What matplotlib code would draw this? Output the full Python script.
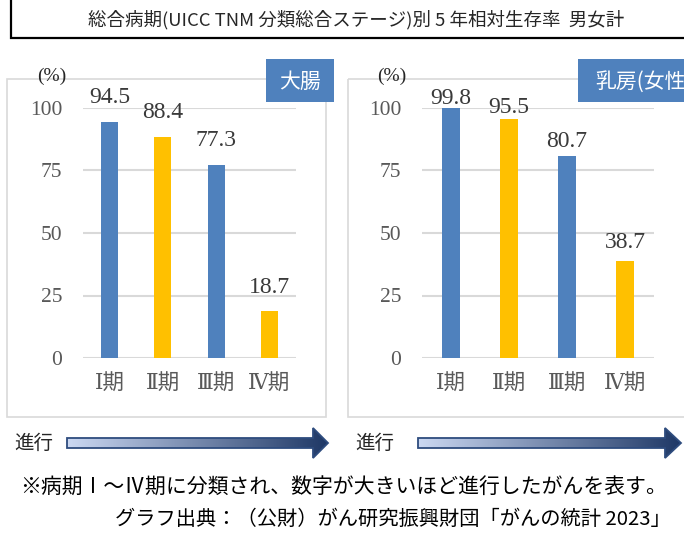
import numpy as np
import matplotlib.pyplot as plt
from matplotlib.patches import Rectangle, Polygon

plt.rcParams['font.family'] = ['Noto Sans CJK JP', 'DejaVu Sans']

# data
stages = ['Ⅰ期', 'Ⅱ期', 'Ⅲ期', 'Ⅳ期']
colon = [94.5, 88.4, 77.3, 18.7]
breast = [99.8, 95.5, 80.7, 38.7]
panel_names = ['大腸', '乳房(女性)']
yticks = [0, 25, 50, 75, 100]
title = '総合病期(UICC TNM 分類総合ステージ)別 5 年相対生存率  男女計'
note = '※病期Ⅰ～Ⅳ期に分類され、数字が大きいほど進行したがんを表す。'
source = 'グラフ出典：（公財）がん研究振興財団「がんの統計 2023」'

BLUE = '#4F81BD'
GOLD = '#FFC000'
GRID = '#D9D9D9'
W, H = 684, 533
SERIF = ['Liberation Serif', 'DejaVu Serif', 'Noto Sans CJK JP']

fig = plt.figure(figsize=(W / 100, H / 100), dpi=100)
bg = fig.add_axes([0, 0, 1, 1])
bg.set_xlim(0, W)
bg.set_ylim(H, 0)
bg.axis('off')


def px_axes(x0, y0, x1, y1):
    return fig.add_axes([x0 / W, 1 - y1 / H, (x1 - x0) / W, (y1 - y0) / H])


def grad_arrow(x0, xh, xt):
    pts = [(x0, 438), (xh, 438), (xh, 428), (xt, 443), (xh, 458), (xh, 448), (x0, 448)]
    poly = Polygon(pts, closed=True, fc='none', ec='#2E4C7E', lw=1.3, zorder=3)
    bg.add_patch(poly)
    c0 = np.array([0.80, 0.85, 0.95])
    c1 = np.array([0.12, 0.22, 0.40])
    t = np.linspace(0, 1, 256)[None, :, None]
    img = c0 + (c1 - c0) * t
    im = bg.imshow(img, extent=(x0, xt, 458, 428), aspect='auto', zorder=2)
    im.set_clip_path(poly)


# title box
bg.add_patch(Rectangle((11, -20), 720, 58, fill=False, ec='black', lw=1.6))
bg.text(356, 20, title, ha='center', va='center', fontsize=13.3, color='#262626')

panels = [
    dict(vals=colon, box=(7, 326), plot=(83, 296), pct=52, lab=(266, 334), arr=(67, 313, 328), go=14,
         offs=[24, 24, 24, 24]),
    dict(vals=breast, box=(348, 720), plot=(422, 654), pct=392, lab=(578, 720), arr=(418, 665, 681), go=355,
         offs=[10, 12, 15, 19]),
]

for i, p in enumerate(panels):
    bx0, bx1 = p['box']
    bg.add_patch(Rectangle((bx0, 79), bx1 - bx0, 338, fill=False, ec=GRID, lw=1.2))
    lx0, lx1 = p['lab']
    bg.add_patch(Rectangle((lx0, 59), lx1 - lx0, 43, fc=BLUE, ec='none', zorder=4))
    if i == 0:
        bg.text((lx0 + lx1) / 2, 82, panel_names[i], ha='center', va='center',
                fontsize=15, color='white', zorder=5)
    else:
        bg.text(lx0 + 17, 82, panel_names[i], ha='left', va='center',
                fontsize=15, color='white', zorder=5)
    bg.text(p['pct'], 76, '(%)', ha='center', va='center', fontsize=14,
            family=SERIF, color='#262626')

    x0, x1 = p['plot']
    ax = px_axes(x0, 108, x1, 358)
    ax.set_facecolor('none')
    x = np.arange(len(stages))
    ax.bar(x, p['vals'], width=0.32, color=[BLUE, GOLD, BLUE, GOLD], zorder=3)
    ax.set_xlim(-0.5, 3.5)
    ax.set_ylim(0, 100)
    ax.set_yticks(yticks)
    ax.set_xticks(x)
    ax.set_xticklabels(stages)
    ax.grid(axis='y', color=GRID, lw=1.5, zorder=0)
    for s in ax.spines.values():
        s.set_visible(False)
    ax.tick_params(length=0)
    ax.tick_params(axis='y', pad=15)
    ax.tick_params(axis='x', pad=12)
    for t in ax.get_yticklabels() + ax.get_xticklabels():
        t.set_fontfamily(SERIF)
        t.set_fontsize(15.5)
        t.set_color('#595959')
    for xi, v, o in zip(x, p['vals'], p['offs']):
        ax.annotate(f'{v:.1f}', (xi, v), xytext=(0, o * 0.72), textcoords='offset points',
                    ha='center', va='center', fontsize=17, family=SERIF, color='#3A3A3A')

    ax0, axh, axt = p['arr']
    grad_arrow(ax0, axh, axt)
    bg.text(p['go'], 443, '進行', ha='left', va='center', fontsize=14, color='#262626')

bg.set_xlim(0, W)
bg.set_ylim(H, 0)

bg.text(344, 487, note, ha='center', va='center', fontsize=15, color='black')
bg.text(671, 519, source, ha='right', va='center', fontsize=14.6, color='black')

fig.savefig('out.png', dpi=100)
